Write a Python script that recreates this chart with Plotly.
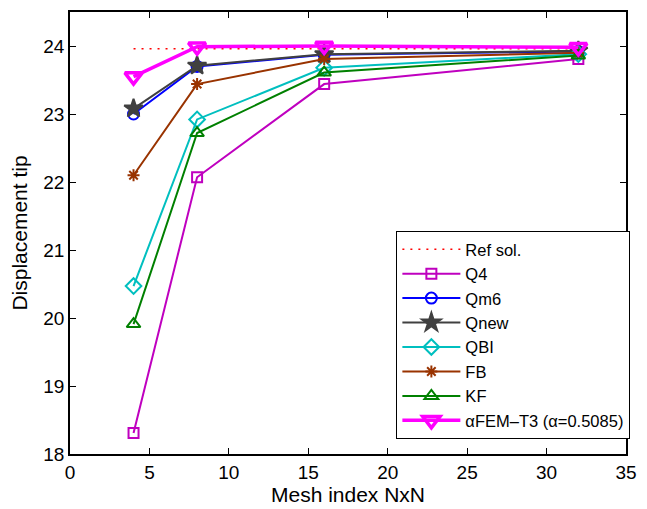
import plotly.graph_objects as go

# Mesh sizes (N for an NxN mesh)
mesh = [4, 8, 16, 32]

# Tip displacement for each element formulation
ref_sol = [23.96, 23.96, 23.96, 23.96]
q4 = [18.31, 22.07, 23.44, 23.81]
qm6 = [23.00, 23.70, 23.87, 23.92]
qnew = [23.08, 23.71, 23.88, 23.93]
qbi = [20.47, 22.92, 23.68, 23.88]
fb = [22.10, 23.44, 23.81, 23.90]
kf = [19.91, 22.72, 23.61, 23.86]
afem = [23.55, 23.99, 24.00, 23.98]

y_ticks = [18, 19, 20, 21, 22, 23, 24]

fig = go.Figure()

fig.add_trace(go.Scatter(
    x=mesh, y=ref_sol, name="Ref sol.", mode="lines",
    line=dict(color="#ff0000", width=1.5, dash="2px,6px"),
))

series = [
    ("Q4", q4, "#bf00bf", "square-open", 10),
    ("Qm6", qm6, "#0000ff", "circle-open", 11),
    ("Qnew", qnew, "#404040", "star", 14),
    ("QBI", qbi, "#00bfbf", "diamond-open", 12),
    ("FB", fb, "#993300", "asterisk-open", 10),
    ("KF", kf, "#008000", "triangle-up-open", 12),
]
for name, vals, color, sym, size in series:
    fig.add_trace(go.Scatter(
        x=mesh, y=vals, name=name, mode="lines+markers",
        line=dict(color=color, width=2),
        marker=dict(symbol=sym, size=size, color=color,
                    line=dict(color=color, width=2)),
    ))

fig.add_trace(go.Scatter(
    x=mesh, y=afem, name="αFEM–T3 (α=0.5085)", mode="lines+markers",
    line=dict(color="#ff00ff", width=3.5),
    marker=dict(symbol="triangle-down-open", size=15, color="#ff00ff",
                line=dict(color="#ff00ff", width=3.5)),
))

axis_common = dict(
    showgrid=False, zeroline=False, showline=True, linecolor="black",
    linewidth=1.5, mirror="ticks", ticks="inside", ticklen=6,
    tickcolor="black", tickfont=dict(size=19, color="black"),
)

fig.update_layout(
    width=647, height=509,
    margin=dict(l=70, r=11, t=10, b=54),
    paper_bgcolor="white", plot_bgcolor="white",
    font=dict(family="Liberation Sans, Arial, sans-serif", color="black"),
    xaxis=dict(range=[0, 35], dtick=5,
               title=dict(text="Mesh index NxN", font=dict(size=21), standoff=2),
               **axis_common),
    yaxis=dict(range=[18, 24.5], tickvals=y_ticks,
               title=dict(text="Displacement tip", font=dict(size=21), standoff=10),
               **axis_common),
    legend=dict(x=0.587, y=0.034, xanchor="left", yanchor="bottom",
                bgcolor="white", bordercolor="black", borderwidth=1,
                font=dict(size=16.5), itemwidth=58, traceorder="normal"),
    showlegend=True,
)

fig.write_html("out.html")
